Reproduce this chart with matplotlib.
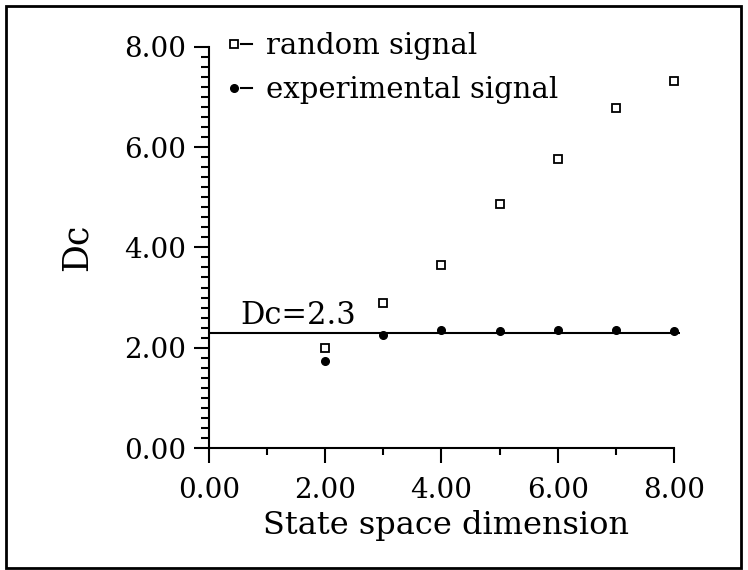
"""Correlation dimension Dc versus state space dimension."""

import matplotlib.pyplot as plt
from matplotlib.legend_handler import HandlerBase
from matplotlib.lines import Line2D
from matplotlib.patches import Rectangle
from matplotlib.ticker import FormatStrFormatter, MultipleLocator

# Embedding (state space) dimensions
DIMS = [2, 3, 4, 5, 6, 7, 8]

# Correlation dimension
RANDOM_DC = [1.99, 2.89, 3.64, 4.87, 5.76, 6.78, 7.32]
EXPERIMENTAL_DC = [1.73, 2.25, 2.35, 2.33, 2.35, 2.35, 2.33]

# Saturation level of the experimental signal
DC_SAT = 2.3
DC_LABEL = "Dc=2.3"

X_TICKS = [0, 2, 4, 6, 8]
Y_TICKS = [0, 2, 4, 6, 8]

plt.rcParams["font.family"] = ["DejaVu Serif"]


class MarkerDash(HandlerBase):
    """Legend key drawn as marker on the left with a short dash after it."""

    def create_artists(self, legend, orig, xdescent, ydescent, width, height,
                       fontsize, trans):
        y = height / 2 - ydescent
        x0 = -xdescent
        mk = Line2D([x0 + width * 0.3], [y], marker=orig.get_marker(),
                    ms=orig.get_markersize(), mfc=orig.get_markerfacecolor(),
                    mec=orig.get_markeredgecolor(), mew=orig.get_markeredgewidth(),
                    linestyle="none", transform=trans)
        dash = Line2D([x0 + width * 0.55, x0 + width], [y, y], color="black",
                      lw=1.5, transform=trans)
        return [dash, mk]


fig = plt.figure(figsize=(7.48, 5.70), dpi=100)
ax = fig.add_axes([0.279, 0.214, 0.634, 0.704])

ax.plot(DIMS, RANDOM_DC, "s", ms=6, mfc="white", mec="black", mew=1.3,
        linestyle="none", label="random signal")
ax.plot(DIMS, EXPERIMENTAL_DC, "o", ms=5.5, color="black",
        linestyle="none", label="experimental signal")
ax.hlines(DC_SAT, 0, 8.1, color="black", lw=1.5)
ax.text(0.55, DC_SAT + 0.04, DC_LABEL, fontsize=22, va="bottom")

ax.set_xlim(0, 8.15)
ax.set_ylim(0, 8)
ax.set_xticks(X_TICKS)
ax.set_yticks(Y_TICKS)
ax.xaxis.set_minor_locator(MultipleLocator(1))
ax.yaxis.set_minor_locator(MultipleLocator(0.2))
ax.xaxis.set_major_formatter(FormatStrFormatter("%.2f"))
ax.yaxis.set_major_formatter(FormatStrFormatter("%.2f"))

ax.spines["top"].set_visible(False)
ax.spines["right"].set_visible(False)
ax.spines["bottom"].set_bounds(0, 8)
for s in ("left", "bottom"):
    ax.spines[s].set_linewidth(1.5)

ax.tick_params(which="major", direction="out", length=11, width=1.5,
               labelsize=20, pad=5)
ax.tick_params(axis="x", which="major", pad=10)
ax.tick_params(which="minor", direction="out", length=5, width=1.5)
ax.tick_params(axis="y", which="minor", length=6)

ax.set_xlabel("State space dimension", fontsize=23, labelpad=4)
ax.set_ylabel("Dc", fontsize=25, labelpad=22)

ax.legend(loc="upper left", bbox_to_anchor=(0.0, 1.08), frameon=False,
          fontsize=21, handlelength=0.9, handletextpad=0.45,
          labelspacing=0.55, borderaxespad=0.2,
          handler_map={Line2D: MarkerDash()})

# border round the whole picture
fig.patches.append(Rectangle((0.008, 0.004), 0.983, 0.986, transform=fig.transFigure,
                             fill=False, edgecolor="black", lw=2))

fig.savefig("out.png", dpi=100)
